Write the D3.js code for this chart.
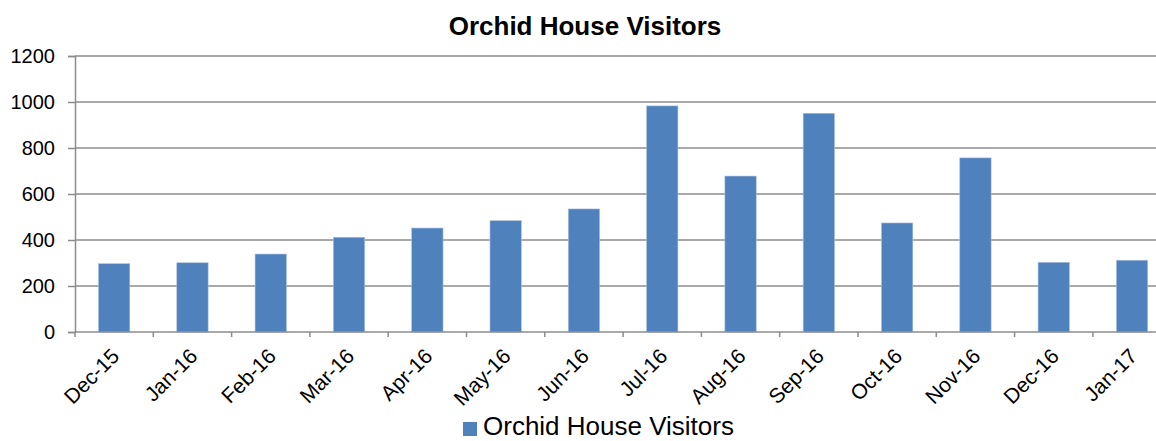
<!DOCTYPE html>
<html>
<head>
<meta charset="utf-8">
<script src="https://cdn.jsdelivr.net/npm/d3@7"></script>
<style>
  body { margin: 0; background: #fff; }
  svg { display: block; font-family: "Liberation Sans", Arial, sans-serif; }
</style>
</head>
<body>
<div id="chart"></div>
<script>
const months = ['Dec-15', 'Jan-16', 'Feb-16', 'Mar-16', 'Apr-16', 'May-16', 'Jun-16',
                'Jul-16', 'Aug-16', 'Sep-16', 'Oct-16', 'Nov-16', 'Dec-16', 'Jan-17'];
const visitors = [297, 301, 339, 412, 452, 484, 535, 983, 678, 951, 474, 757, 303, 312];
const yTicks = [0, 200, 400, 600, 800, 1000, 1200];
const seriesName = 'Orchid House Visitors';

(function() {
    const W = 1156, H = 441;
    const left = 75, top = 56, bottom = 332;
    const band = 78.3;

    let svg = d3.select('#chart')
        .append('svg')
        .attr('width', W)
        .attr('height', H);

    let x = d3.scaleBand()
        .domain(months)
        .range([left, left + band * months.length])
        .paddingInner(0.6)
        .paddingOuter(0.3);

    let y = d3.scaleLinear()
        .domain([0, 1200])
        .range([bottom, top]);

    // gridlines
    svg.append('g')
        .selectAll('line')
        .data(yTicks.slice(1))
        .enter()
        .append('line')
        .attr('x1', left)
        .attr('x2', W)
        .attr('y1', d => y(d))
        .attr('y2', d => y(d))
        .attr('stroke', '#8c8c8c')
        .attr('stroke-width', 1.5);

    // y axis
    let yAxis = svg.append('g')
        .attr('transform', `translate(${left},0)`)
        .call(d3.axisLeft(y).tickValues(yTicks).tickFormat(d3.format('d')).tickSize(7).tickPadding(13));
    yAxis.attr('font-family', null);
    yAxis.select('.domain').attr('stroke', '#8c8c8c').attr('stroke-width', 1.5);
    yAxis.selectAll('.tick line').attr('stroke', '#8c8c8c').attr('stroke-width', 1.5);
    yAxis.selectAll('.tick text')
        .attr('fill', '#000')
        .style('font-size', '20px');

    // bars
    svg.append('g')
        .selectAll('rect')
        .data(visitors)
        .enter()
        .append('rect')
        .attr('x', (d, i) => x(months[i]))
        .attr('width', x.bandwidth())
        .attr('y', d => y(d))
        .attr('height', d => bottom - y(d))
        .attr('fill', '#4f81bd')
        .attr('stroke', '#a9bfdd')
        .attr('stroke-width', 0.6);

    // x axis line and category boundary ticks
    svg.append('line')
        .attr('x1', left)
        .attr('x2', W)
        .attr('y1', bottom)
        .attr('y2', bottom)
        .attr('stroke', '#8c8c8c')
        .attr('stroke-width', 1.5);

    svg.append('g')
        .selectAll('line')
        .data(d3.range(months.length + 1))
        .enter()
        .append('line')
        .attr('x1', i => left + i * band)
        .attr('x2', i => left + i * band)
        .attr('y1', bottom)
        .attr('y2', bottom + 5)
        .attr('stroke', '#8c8c8c')
        .attr('stroke-width', 1.5);

    // x labels
    svg.append('g')
        .selectAll('text')
        .data(months)
        .enter()
        .append('text')
        .attr('transform', d => `translate(${x(d) + x.bandwidth() / 2 - 4},${bottom + 15}) rotate(-45)`)
        .attr('text-anchor', 'end')
        .attr('dy', '0.7em')
        .style('font-size', '21px')
        .text(d => d);

    // title
    svg.append('text')
        .attr('x', 585)
        .attr('y', 35)
        .attr('text-anchor', 'middle')
        .style('font-size', '26px')
        .style('font-weight', 'bold')
        .text(seriesName);

    // legend
    svg.append('rect')
        .attr('x', 463)
        .attr('y', 422)
        .attr('width', 14)
        .attr('height', 14)
        .attr('fill', '#4f81bd');
    svg.append('text')
        .attr('x', 483)
        .attr('y', 435)
        .style('font-size', '26px')
        .text(seriesName);
})();
</script>
</body>
</html>
